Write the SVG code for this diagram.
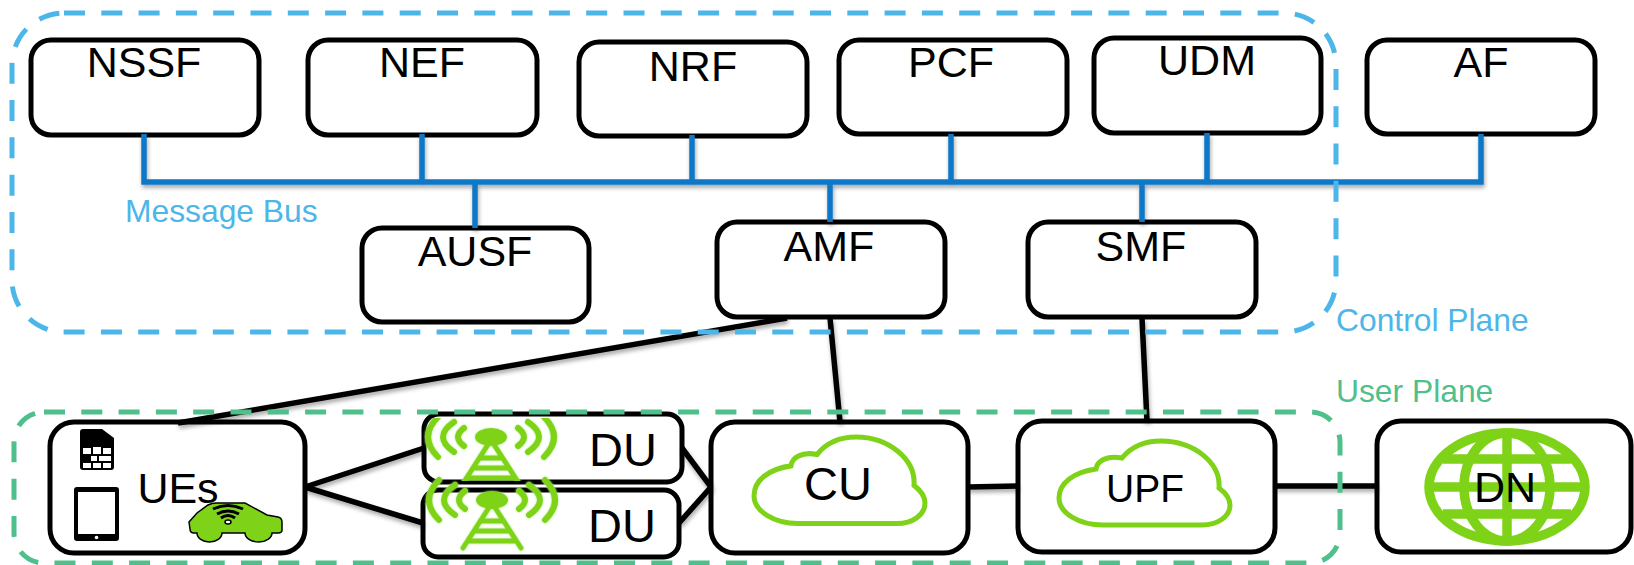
<svg xmlns="http://www.w3.org/2000/svg" width="1634" height="565" viewBox="0 0 1634 565">
<style>
.box{fill:#fff;stroke:#000;stroke-width:5}
.t{font-family:"Liberation Sans",Arial,sans-serif;font-size:43px;fill:#000;text-anchor:middle}
.l{font-family:"Liberation Sans",Arial,sans-serif;font-size:31.800px}
.dash{fill:none;stroke-width:5;stroke-dasharray:21 16.300}
.bus{stroke:#0f77c8;stroke-width:5.500;fill:none}
.k{stroke:#000;stroke-width:5.500;fill:none}
.g{fill:none;stroke:#7ed319;stroke-width:5;stroke-linecap:round}
</style>
<defs>
<filter id="sh" x="-5%" y="-10%" width="110%" height="125%"><feDropShadow dx="1" dy="3" stdDeviation="2" flood-color="#000" flood-opacity=".35"/></filter>
<filter id="glow" x="-10%" y="-10%" width="120%" height="120%"><feDropShadow dx="0" dy="0" stdDeviation="1" flood-color="#b5ec80" flood-opacity="1"/></filter>
<path id="cloud" d="M44,84C20,84 0,72 0,57C0,42 15,31 37,28C38,20 48,14 63,17C72,6 86,0 102,0C135,0 162,22 160,47C168,53 171,58 171,64C171,76 158,84 143,84Z" fill="none" stroke="#7ed319" stroke-width="5"/>
<g id="tower" filter="url(#glow)">
<ellipse cx="0" cy="0" rx="16" ry="9" fill="#7ed319"/>
<path class="g" d="M-2,6L-29,48M2,6L29,48M-11,21H11M-16,31H16M-22,41H22"/>
<path class="g" style="stroke-width:6" d="M-27,-9Q-39,0 -27,9M-37,-15Q-59,0 -37,15M-53,-20Q-73,0 -53,20M27,-9Q39,0 27,9M37,-15Q59,0 37,15M53,-20Q73,0 53,20"/>
</g>
<clipPath id="t1clip"><rect x="420" y="418" width="150" height="63"/></clipPath>
</defs>

<g id="nssf"><rect class="box" x="31" y="40" width="228" height="95" rx="20"/><text class="t" x="144" y="77">NSSF</text></g>
<g id="nef"><rect class="box" x="308" y="40" width="229" height="95" rx="20"/><text class="t" x="422" y="77">NEF</text></g>
<g id="nrf"><rect class="box" x="579" y="42" width="228" height="94" rx="20"/><text class="t" x="693" y="81">NRF</text></g>
<g id="pcf"><rect class="box" x="839" y="40" width="228" height="94" rx="20"/><text class="t" x="951" y="77">PCF</text></g>
<g id="udm"><rect class="box" x="1094" y="38" width="227" height="95" rx="20"/><text class="t" x="1207" y="75">UDM</text></g>
<g id="af"><rect class="box" x="1367" y="40" width="228" height="94" rx="20"/><text class="t" x="1481" y="77">AF</text></g>
<g id="ausf"><rect class="box" x="362" y="228" width="227" height="94" rx="20"/><text class="t" x="475" y="266">AUSF</text></g>
<g id="amf"><rect class="box" x="717" y="222" width="228" height="95" rx="20"/><text class="t" x="829" y="261">AMF</text></g>
<g id="smf"><rect class="box" x="1028" y="222" width="228" height="95" rx="20"/><text class="t" x="1141" y="261">SMF</text></g>

<g id="ues"><rect class="box" x="50" y="422" width="255" height="131" rx="24"/>
<path d="M80,432Q80,429 83,429H102L114,438V467Q114,470 111,470H83Q80,470 80,467Z" fill="#000"/>
<path d="M83,448H91V454H83ZM93,447H101V454H93ZM103,448H111V454H103ZM83,456H91V461H97V456H91ZM99,456H111V461H99ZM83,463H91V468H83ZM93,463H101V468H93ZM103,463H111V468H103Z" fill="#fff"/>
<rect x="74" y="487" width="45" height="54" rx="3" fill="#000"/>
<rect x="78" y="492" width="37" height="42" fill="#fff"/>
<circle cx="96.500" cy="537.500" r="1.800" fill="#fff"/>
<text class="t" x="178" y="503">UEs</text>
<path d="M189,522L197,513L208,505Q212,503 216,503H245L267,515L278,517Q282,518 282,522V530Q282,533 278,533H272A13.500,9 0 0 1 245,533H222A12.500,9 0 0 1 197,533H194Q190,533 190,529Z" fill="#7ed319" stroke="#000" stroke-width="1.500"/>
<path d="M213,509Q228,502 243,509M217,514Q228,508 239,514M221,518Q228,513 235,518" stroke="#000" stroke-width="3" fill="none"/>
<ellipse cx="228" cy="522" rx="3" ry="2" fill="#fff" stroke="#000" stroke-width="1.500"/>
</g>

<g id="du1"><rect class="box" x="424" y="414" width="258" height="68" rx="15"/>
<g clip-path="url(#t1clip)"><use href="#tower" x="491" y="437"/></g>
<text class="t" x="623" y="466" style="font-size:47px">DU</text></g>
<g id="du2"><rect class="box" x="423" y="490" width="256" height="67" rx="15"/>
<use href="#tower" x="492" y="500"/>
<text class="t" x="622" y="542" style="font-size:47px">DU</text></g>
<g id="cu"><rect class="box" x="711" y="422" width="257" height="131" rx="24"/>
<use href="#cloud" transform="translate(754,437) scale(1,1.030)"/>
<text class="t" x="838" y="500" style="font-size:47px">CU</text></g>
<g id="upf"><rect class="box" x="1018" y="421" width="257" height="131" rx="24"/>
<use href="#cloud" x="1059" y="441"/>
<text class="t" x="1145" y="502" style="font-size:39px">UPF</text></g>
<g id="dn"><rect class="box" x="1377" y="421" width="254" height="131" rx="24"/>
<g fill="none" stroke="#7ed319" stroke-width="9.500">
<ellipse cx="1507" cy="487" rx="78" ry="54"/>
<ellipse cx="1507" cy="487" rx="43" ry="54"/>
<path d="M1507,433V541M1429,487H1585M1443,459H1571M1443,514H1571"/>
</g>
<text class="t" x="1505" y="502">DN</text></g>

<g id="connectors" filter="url(#sh)">
<path class="bus" d="M144,134V182H1481V134M422,134V182M692,135V182M951,134V182M1207,133V182M475,182V228M830,182V222M1142,182V222"/>
<path class="k" d="M787,318L178,423M830,318L840,422M1142,318L1147,421M305,487L424,448M305,487L423,523M682,448L711,487M679,523L711,487M968,487L1018,486M1275,486H1377"/>
</g>

<rect id="control-plane" class="dash" x="12" y="13" width="1324" height="319" rx="52" stroke="#4db6e9"/>
<rect id="user-plane" class="dash" x="14" y="412" width="1326" height="151" rx="30" stroke="#4fbf8c"/>
<text class="l" x="125" y="222" fill="#4db6e9">Message Bus</text>
<text class="l" x="1336" y="331" fill="#4db6e9">Control Plane</text>
<text class="l" x="1336" y="402" fill="#4fbf8c">User Plane</text>
</svg>
